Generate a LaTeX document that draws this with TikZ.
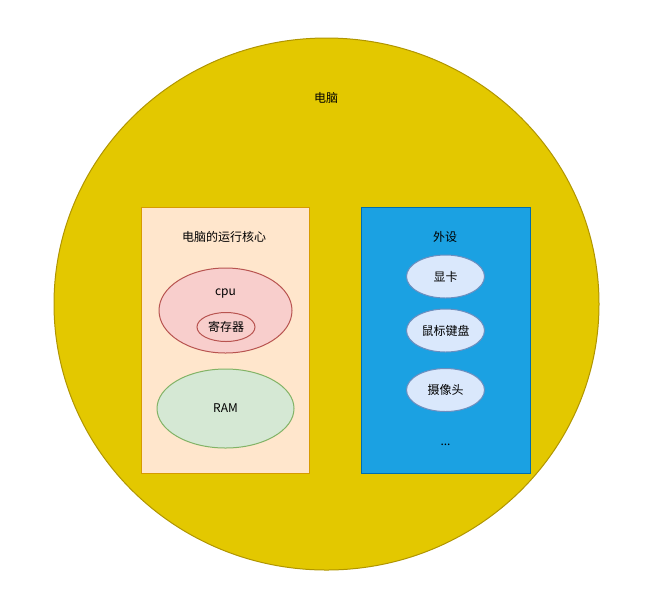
\documentclass[tikz,border=0pt]{standalone}
\usepackage{fontspec}
\setmainfont{Noto Sans CJK SC}
\usetikzlibrary{shapes.geometric}
\definecolor{pcfill}{HTML}{E3C800}
\definecolor{pcline}{HTML}{B09500}
\definecolor{corefill}{HTML}{FFE6CC}
\definecolor{coreline}{HTML}{D79B00}
\definecolor{perfill}{HTML}{1BA1E2}
\definecolor{perline}{HTML}{006EAF}
\definecolor{redfill}{HTML}{F8CECC}
\definecolor{redline}{HTML}{B85450}
\definecolor{greenfill}{HTML}{D5E8D4}
\definecolor{greenline}{HTML}{82B366}
\definecolor{bluefill}{HTML}{DAE8FC}
\definecolor{blueline}{HTML}{6C8EBF}
\begin{document}
\begin{tikzpicture}[x=0.75pt,y=-0.75pt,
  lbl/.style={font=\fontsize{9}{11}\selectfont, text=black, inner sep=0pt},
  ell/.style={ellipse, draw, line width=0.75pt, inner sep=0pt},
  box/.style={draw, line width=0.75pt, inner sep=0pt}]
\useasboundingbox (0,0) rectangle (653,612);
\node[ell, fill=pcfill, draw=pcline, minimum width=545*0.75pt, minimum height=532*0.75pt] (pc) at (326.5,304) {};
\node[lbl] (pclbl) at (326,98) {电脑};
\node[box, fill=corefill, draw=coreline, minimum width=168*0.75pt, minimum height=266*0.75pt] (core) at (225,340) {};
\node[lbl] (corelbl) at (224,237) {电脑的运行核心};
\node[ell, fill=redfill, draw=redline, minimum width=133*0.75pt, minimum height=85*0.75pt] (cpu) at (225.5,310.5) {};
\node[lbl, anchor=base] (cpulbl) at (225.5,295) {cpu};
\node[ell, lbl, fill=redfill, draw=redline, line width=0.75pt, minimum width=58*0.75pt, minimum height=29*0.75pt] (reg) at (226,327) {寄存器};
\node[ell, lbl, fill=greenfill, draw=greenline, line width=0.75pt, minimum width=137*0.75pt, minimum height=79*0.75pt] (ram) at (225.5,408.5) {RAM};
\node[box, fill=perfill, draw=perline, minimum width=169*0.75pt, minimum height=266*0.75pt] (per) at (445.5,340) {};
\node[lbl] (perlbl) at (445,237) {外设};
\node[ell, lbl, fill=bluefill, draw=blueline, line width=0.75pt, minimum width=78*0.75pt, minimum height=43*0.75pt] (gpu) at (445.5,276.5) {显卡};
\node[ell, lbl, fill=bluefill, draw=blueline, line width=0.75pt, minimum width=78*0.75pt, minimum height=43*0.75pt] (kbd) at (445.5,330.5) {鼠标键盘};
\node[ell, lbl, fill=bluefill, draw=blueline, line width=0.75pt, minimum width=78*0.75pt, minimum height=43*0.75pt] (cam) at (445.5,390) {摄像头};
\node[lbl] (more) at (445.5,445) {...};
\end{tikzpicture}
\end{document}
